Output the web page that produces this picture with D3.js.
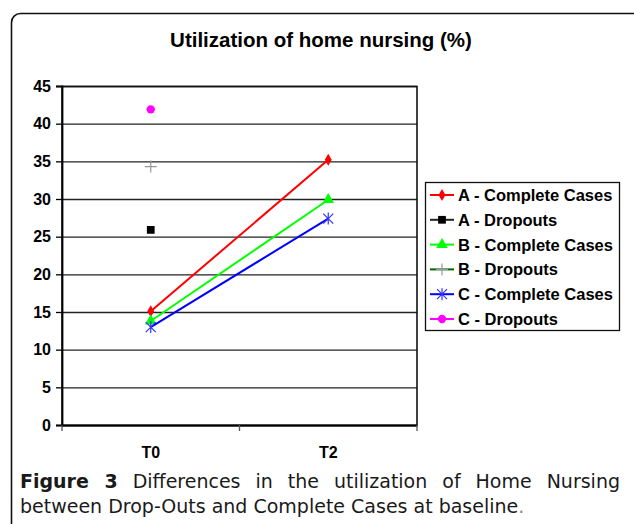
<!DOCTYPE html>
<html>
<head>
<meta charset="utf-8">
<script src="https://cdn.jsdelivr.net/npm/d3@7"></script>
<style>
  body { margin: 0; background: #fff; }
  #wrap { position: relative; width: 634px; height: 524px; overflow: hidden; }
  svg { position: absolute; left: 0; top: 0; }
  svg text { font-family: 'Liberation Sans', Arial, Helvetica, sans-serif; font-weight: bold; }
  .cap { position: absolute; left: 20px; width: 600px; font-family: 'DejaVu Sans', Verdana, sans-serif; font-size: 19px; color: #1a1a1a; white-space: nowrap; }
  #cap1 { top: 470px; text-align: justify; text-align-last: justify; white-space: normal; }
  #cap2 { top: 495px; }
</style>
</head>
<body>
<div id="wrap">
  <svg width="634" height="524"></svg>
  <div class="cap" id="cap1"><b>Figure 3</b> Differences in the utilization of Home Nursing</div>
  <div class="cap" id="cap2">between Drop-Outs and Complete Cases at baseline<span style="color:#888">.</span></div>
</div>
<script>
var width = 634,
    height = 524,
    margin = { top: 86, bottom: 99, left: 62, right: 217 }

var times = ["T0", "T2"]
var seriesNames = ["A - Complete Cases", "A - Dropouts", "B - Complete Cases", "B - Dropouts", "C - Complete Cases", "C - Dropouts"]
var aComplete = [15.1, 35.2]
var aDropouts = [25.9, null]
var bComplete = [13.8, 29.9]
var bDropouts = [34.3, null]
var cComplete = [13.0, 27.4]
var cDropouts = [41.9, null]
var yTicks = [0, 5, 10, 15, 20, 25, 30, 35, 40, 45]

var lineColors = ["#ff0000", "#222222", "#00ff00", "#006400", "#0000ff", "#ff00ff"]
var markColors = ["#ff0000", "#000000", "#00ff00", "#999999", "#3333ff", "#ff00ff"]
var markTypes = ["diamond", "square", "triangle", "plus", "star", "circle"]
var allValues = [aComplete, aDropouts, bComplete, bDropouts, cComplete, cDropouts]

var svg = d3.select("svg")

// outer frame with rounded top corners
svg.append("rect")
    .attr("x", 11.5).attr("y", 13.5)
    .attr("width", 640).attr("height", 600)
    .attr("rx", 9)
    .attr("fill", "none").attr("stroke", "#111").attr("stroke-width", 1.6)

svg.append("text")
    .attr("x", 321).attr("y", 47)
    .attr("text-anchor", "middle")
    .style("font-size", "20.5px")
    .text("Utilization of home nursing (%)")

var pw = width - margin.left - margin.right,
    ph = height - margin.top - margin.bottom

var x = d3.scaleBand().domain(times).range([0, pw]).padding(0)
var y = d3.scaleLinear().domain([0, 45]).range([ph, 0])

var g = svg.append("g").attr("transform", "translate(" + margin.left + "," + margin.top + ")")

// gridlines
g.selectAll(".grid").data(yTicks).enter().append("line")
    .attr("x1", 0).attr("x2", pw)
    .attr("y1", d => y(d) + 0.5).attr("y2", d => y(d) + 0.5)
    .attr("stroke", "#222").attr("stroke-width", 1.3)

g.append("rect")
    .attr("x", 0).attr("y", 0.5).attr("width", pw).attr("height", ph)
    .attr("fill", "none").attr("stroke", "#111").attr("stroke-width", 1.6)

// y axis
var yAxis = g.append("g")
    .call(d3.axisLeft(y).tickValues(yTicks).tickSize(6).tickPadding(5))
yAxis.select(".domain").attr("stroke", "#000").attr("stroke-width", 1.8)
yAxis.selectAll(".tick line").attr("stroke", "#000").attr("stroke-width", 1.3)
yAxis.selectAll("text")
    .attr("font-family", null).attr("font-size", null)
    .style("font-size", "16px").attr("fill", "#000")

// x axis: ticks between categories
var xg = g.append("g").attr("transform", "translate(0," + ph + ")")
xg.append("line").attr("x1", 0).attr("x2", pw).attr("y1", 0.5).attr("y2", 0.5)
    .attr("stroke", "#000").attr("stroke-width", 1.8)
xg.selectAll(".xt").data([0, x("T2"), pw]).enter().append("line")
    .attr("x1", d => d).attr("x2", d => d).attr("y1", 0).attr("y2", 6)
    .attr("stroke", "#555").attr("stroke-width", 1.3)
xg.selectAll(".xl").data(times).enter().append("text")
    .attr("x", d => x(d) + x.bandwidth() / 2)
    .attr("y", 33)
    .attr("text-anchor", "middle")
    .style("font-size", "16px")
    .text(d => d)

var cx = d => x(d) + x.bandwidth() / 2

function drawMarker(sel, type, color) {
    if (type === "plus") {
        sel.append("path").attr("d", "M-6,0H6M0,-6V6")
            .attr("stroke", color).attr("stroke-width", 1.2).attr("fill", "none")
    } else if (type === "star") {
        sel.append("path").attr("d", "M-5,-5L5,5M-5,5L5,-5M0,-6V6")
            .attr("stroke", color).attr("stroke-width", 1.2).attr("fill", "none")
    } else {
        var sym = { diamond: d3.symbolDiamond, square: d3.symbolSquare, triangle: d3.symbolTriangle, circle: d3.symbolCircle }[type]
        var size = { diamond: 42, square: 60, triangle: 58, circle: 55 }[type]
        sel.append("path").attr("d", d3.symbol(sym, size)()).attr("fill", color)
    }
}

var line = d3.line().defined(d => d.v != null).x(d => cx(d.t)).y(d => y(d.v))

allValues.forEach(function(vals, i) {
    var pts = times.map((t, j) => ({ t: t, v: vals[j] }))
    g.append("path").datum(pts)
        .attr("d", line)
        .attr("fill", "none")
        .attr("stroke", lineColors[i]).attr("stroke-width", 2)
    pts.filter(d => d.v != null).forEach(function(d) {
        var m = g.append("g").attr("transform", "translate(" + cx(d.t) + "," + y(d.v) + ")")
        drawMarker(m, markTypes[i], markColors[i])
    })
})

// legend
var lg = svg.append("g").attr("transform", "translate(425,182)")
lg.append("rect").attr("x", 0.5).attr("y", 0.5).attr("width", 194).attr("height", 148)
    .attr("fill", "#fff").attr("stroke", "#111").attr("stroke-width", 1.3)
seriesNames.forEach(function(name, i) {
    var row = lg.append("g").attr("transform", "translate(0," + (13 + i * 24.8) + ")")
    row.append("line").attr("x1", 5).attr("x2", 29).attr("y1", 0).attr("y2", 0)
        .attr("stroke", lineColors[i]).attr("stroke-width", 2)
    var m = row.append("g").attr("transform", "translate(17,0)")
    drawMarker(m, markTypes[i], markColors[i])
    row.append("text").attr("x", 33).attr("y", 6)
        .style("font-size", "16.5px")
        .text(name)
})
</script>
</body>
</html>
